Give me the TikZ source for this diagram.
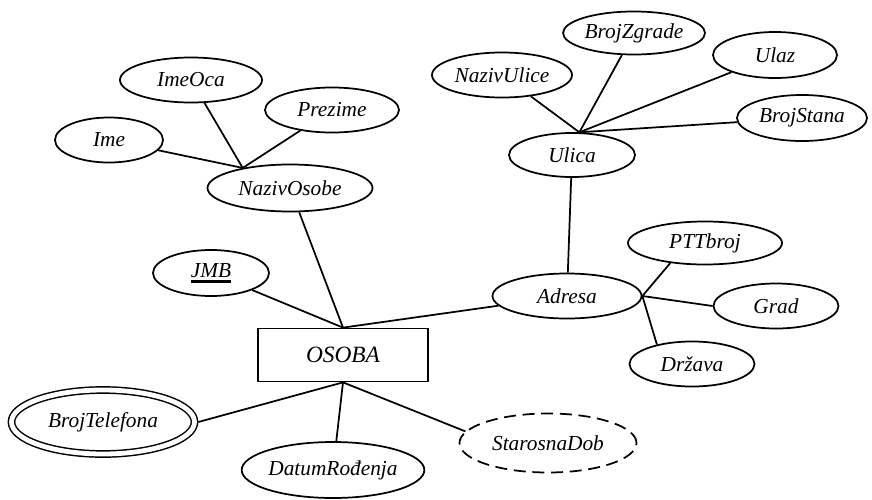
\documentclass[tikz,border=0pt]{standalone}
\usepackage{fontspec}
\setmainfont{Liberation Serif}
\usetikzlibrary{shapes.geometric}
\newcommand\keyattr[1]{\setbox0\hbox{#1}\rlap{\rule[-4.2pt]{\wd0}{1.9pt}}\box0}
\tikzset{
  sz/.style 2 args={minimum width=#1*0.75pt, minimum height=#2*0.75pt},
  attr/.style={ellipse, draw, line width=1.3pt, inner sep=0pt,
    font=\fontsize{16}{19}\selectfont\itshape},
  multiattr/.style={attr, line width=1.1pt, double, double distance=3.6pt, outer sep=2.9pt},
  derivattr/.style={attr, dash pattern=on 9pt off 5pt},
  entity/.style={rectangle, draw, line width=1.3pt, inner sep=0pt,
    font=\fontsize{17.5}{20}\selectfont\itshape},
  link/.style={line width=1.3pt},
}
\begin{document}
\begin{tikzpicture}[x=0.75pt, y=-0.75pt]
\useasboundingbox (0,0) rectangle (872,500);
% nodes
\node[attr, sz={108}{45}] (ime) at (109,140) {Ime};
\node[attr, sz={142}{45}] (imeoca) at (191,80) {ImeOca};
\node[attr, sz={134}{45}] (prezime) at (332,110) {Prezime};
\node[attr, sz={165}{47}] (nazivosobe) at (290,188) {NazivOsobe};
\node[attr, sz={116}{46}] (jmb) at (211,273) {\keyattr{JMB}};
\node[entity, sz={170}{53}] (osoba) at (343,355) {OSOBA};
\node[multiattr, sz={183}{64}] (brojtel) at (103,422) {BrojTelefona};
\node[attr, sz={177}{56}] (datum) at (333,470) {DatumRođenja};
\node[derivattr, sz={177}{59}] (starosna) at (548,443) {StarosnaDob};
\node[attr, sz={149}{45}] (adresa) at (567,296) {Adresa};
\node[attr, sz={126}{44}] (ulica) at (572,155) {Ulica};
\node[attr, sz={140}{45}] (nazivulice) at (502,75) {NazivUlice};
\node[attr, sz={142}{43}] (brojzgrade) at (634,33) {BrojZgrade};
\node[attr, sz={124}{46}] (ulaz) at (775,55) {Ulaz};
\node[attr, sz={130}{46}] (brojstana) at (802,118) {BrojStana};
\node[attr, sz={154}{43}] (pttbroj) at (705,243) {PTTbroj};
\node[attr, sz={125}{45}] (grad) at (776,306) {Grad};
\node[attr, sz={125}{45}] (drzava) at (692,364) {Država};
% connectors
\draw[link] (ime) -- (nazivosobe.157);
\draw[link] (imeoca) -- (nazivosobe.157);
\draw[link] (prezime) -- (nazivosobe.157);
\draw[link] (nazivosobe) -- (osoba.north);
\draw[link] (jmb) -- (osoba.north);
\draw[link] (adresa) -- (osoba.north);
\draw[link] (osoba.south) -- (brojtel.east);
\draw[link] (osoba.south) -- (datum);
\draw[link] (osoba.south) -- (starosna.172);
\draw[link] (ulica) -- (adresa);
\draw[link] (nazivulice) -- (ulica.72);
\draw[link] (brojzgrade) -- (ulica.72);
\draw[link] (ulaz) -- (ulica.72);
\draw[link] (brojstana) -- (ulica.72);
\draw[link] (adresa.east) -- (pttbroj.210);
\draw[link] (adresa.east) -- (grad.west);
\draw[link] (adresa.east) -- (drzava.151);
\end{tikzpicture}
\end{document}
